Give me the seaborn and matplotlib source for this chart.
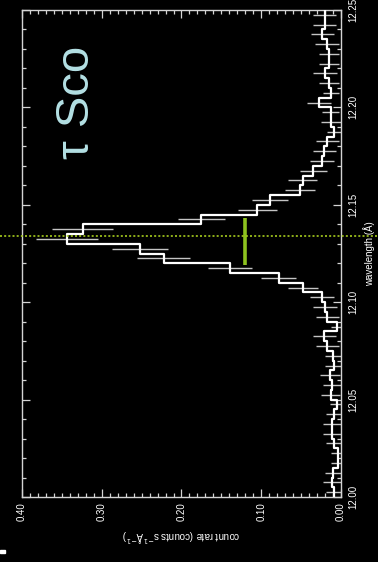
import numpy as np
import pandas as pd
import matplotlib
matplotlib.use("Agg")
import matplotlib.pyplot as plt
from matplotlib.ticker import MultipleLocator, FormatStrFormatter
from matplotlib.patches import Rectangle
import seaborn as sns

# Ne X Ly-alpha region of the tau Sco spectrum, 0.005 A bins
bin_edges = np.round(np.linspace(12.000, 12.250, 51), 3)

count_rate = [
    0.0084, 0.0116, 0.0096, 0.0040, 0.0040, 0.0084, 0.0116, 0.0116, 0.0084, 0.0054,
    0.0130, 0.0116, 0.0140, 0.0085, 0.0096, 0.0170, 0.0210, 0.0045, 0.0170, 0.0200,
    0.0240, 0.0480, 0.0780, 0.1390, 0.2225, 0.2525, 0.3440, 0.3240, 0.1750, 0.1050,
    0.0890, 0.0510, 0.0480, 0.0350, 0.0240, 0.0210, 0.0170, 0.0085, 0.0130, 0.0130,
    0.0280, 0.0120, 0.0150, 0.0200, 0.0145, 0.0145, 0.0175, 0.0235, 0.0205, 0.0205,
]

count_err = [
    0.0100, 0.0110, 0.0100, 0.0080, 0.0080, 0.0100, 0.0110, 0.0110, 0.0100, 0.0090,
    0.0120, 0.0110, 0.0125, 0.0110, 0.0100, 0.0140, 0.0146, 0.0080, 0.0140, 0.0146,
    0.0150, 0.0190, 0.0220, 0.0275, 0.0330, 0.0350, 0.0390, 0.0380, 0.0300, 0.0246,
    0.0227, 0.0190, 0.0180, 0.0170, 0.0154, 0.0146, 0.0140, 0.0090, 0.0125, 0.0104,
    0.0150, 0.0100, 0.0120, 0.0146, 0.0125, 0.0125, 0.0146, 0.0146, 0.0146, 0.0146,
]

line_center = 12.134           # Ne X Ly-alpha rest wavelength
bar_wave = [12.119, 12.143]    # green marker extent
bar_rate = 0.12
star_label = "τ Sco"

x_label = r"count rate (counts s$^{-1}$Å$^{-1}$)"
y_label = "wavelength (Å)"

# step outline: each bin is a vertical run at constant rate
lo, hi = bin_edges[:-1], bin_edges[1:]
steps = pd.DataFrame({
    "rate": np.repeat(count_rate, 2),
    "wave": np.column_stack([lo, hi]).ravel(),
})
centers = 0.5 * (lo + hi)

sns.set_theme(style="dark", rc={
    "figure.facecolor": "black",
    "axes.facecolor": "black",
    "axes.edgecolor": "#d4d4d4",
    "axes.linewidth": 1.0,
    "axes.grid": False,
    "text.color": "white",
    "axes.labelcolor": "white",
    "xtick.color": "#d4d4d4",
    "ytick.color": "#d4d4d4",
    "xtick.labelcolor": "white",
    "ytick.labelcolor": "white",
})
plt.rcParams["font.family"] = ["Liberation Sans", "DejaVu Sans"]

fig = plt.figure(figsize=(3.78, 5.62), dpi=100, facecolor="black")
ax = fig.add_axes([22 / 378, 1 - 497 / 562, 319 / 378, 487 / 562])

ax.errorbar(count_rate, centers, xerr=count_err, fmt="none",
            ecolor="#c4c4c4", elinewidth=1.0, capsize=0, zorder=2)
sns.lineplot(data=steps, x="rate", y="wave", sort=False, estimator=None,
             color="white", linewidth=1.6, ax=ax, zorder=3)

ax.plot([bar_rate, bar_rate], bar_wave, color="#8dc21f", lw=2.6,
        solid_capstyle="butt", zorder=4)
ax.axhline(line_center, xmin=-22 / 319, xmax=356 / 319, clip_on=False,
           color="#a6cc1e", lw=1.2, linestyle=(0, (1.2, 1.3)), zorder=5)

ax.text(0.331, 12.2025, star_label, rotation=90, fontsize=34,
        color="#b4e0e4", ha="center", va="center")

ax.set_xlim(0.40, 0.00)
ax.set_ylim(12.00, 12.25)

ax.xaxis.set_major_locator(MultipleLocator(0.10))
ax.xaxis.set_minor_locator(MultipleLocator(0.01))
ax.yaxis.set_major_locator(MultipleLocator(0.05))
ax.yaxis.set_minor_locator(MultipleLocator(0.01))
ax.xaxis.set_major_formatter(FormatStrFormatter("%.2f"))
ax.yaxis.set_major_formatter(FormatStrFormatter("%.2f"))

ax.tick_params(which="both", direction="in", top=True, bottom=True,
               left=True, right=True, labelleft=False, labelright=True,
               labeltop=False, labelbottom=True, width=0.9)
ax.tick_params(which="major", length=5.5)
ax.tick_params(which="minor", length=2.7)
ax.tick_params(axis="x", labelsize=7, labelrotation=90, pad=3.5)
ax.tick_params(axis="y", labelsize=7, labelrotation=90, pad=5)
for t in ax.get_yticklabels():
    t.set_va("center")

ax.set_xlabel(x_label, fontsize=7, rotation=180, labelpad=5)
ax.yaxis.set_label_position("right")
ax.set_ylabel(y_label, fontsize=7, rotation=90, labelpad=4)

for s in ax.spines.values():
    s.set_visible(True)
    s.set_color("#d4d4d4")

fig.patches.append(Rectangle((0, 9 / 562), 5 / 378, 3 / 562,
                             transform=fig.transFigure, color="white"))

fig.savefig("out.png", dpi=100, facecolor="black")
